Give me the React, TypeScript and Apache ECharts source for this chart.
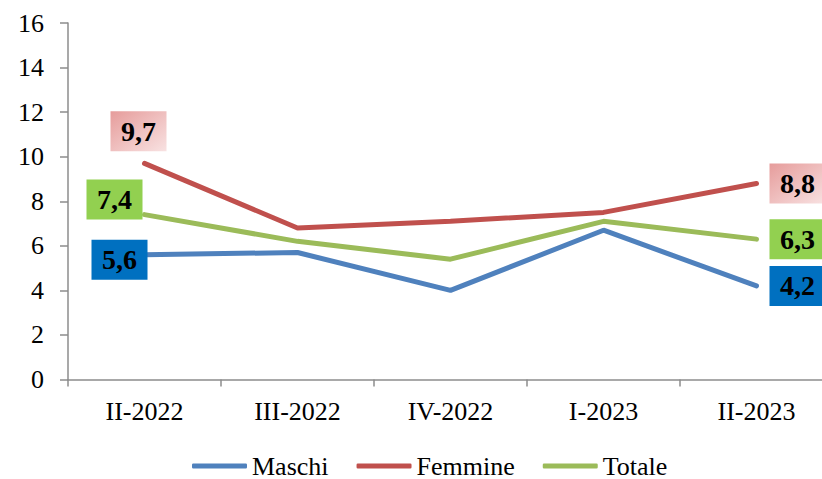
import React, { useEffect, useRef } from "react";
import * as echarts from "echarts";

const categories = ["II-2022", "III-2022", "IV-2022", "I-2023", "II-2023"];
const maschi = [5.6, 5.7, 4.0, 6.7, 4.2];
const femmine = [9.7, 6.8, 7.1, 7.5, 8.8];
const totale = [7.4, 6.2, 5.4, 7.1, 6.3];
const seriesNames = ["Maschi", "Femmine", "Totale"];

const FONT = "'Liberation Serif', 'DejaVu Serif', serif";

const fmt = (v: number) => v.toFixed(1).replace(".", ",");

function buildData(values: number[], bg: any, firstOffset: number[], lastOffset: number[]) {
  return values.map((v, i) => {
    const isEnd = i === 0 || i === values.length - 1;
    if (!isEnd) return { value: v };
    return {
      value: v,
      label: {
        show: true,
        position: "inside",
        offset: i === 0 ? firstOffset : lastOffset,
        formatter: () => fmt(v),
        fontFamily: FONT,
        fontWeight: "bold",
        fontSize: 28,
        color: "#000",
        backgroundColor: bg,
        width: 56,
        height: 40,
        lineHeight: 40,
        align: "center",
        verticalAlign: "middle",
      },
    };
  });
}

export default function App() {
  const ref = useRef<HTMLDivElement>(null);
  useEffect(() => {
    if (!ref.current) return;
    const chart = echarts.init(ref.current, null, { renderer: "svg" });
    const pink = new echarts.graphic.LinearGradient(0, 0, 1, 1, [
      { offset: 0, color: "#e69c9b" },
      { offset: 1, color: "#f8e2e2" },
    ]);
    const lineCommon = {
      type: "line",
      symbol: "circle",
      symbolSize: 0.1,
      showSymbol: true,
      z: 2,
    };
    chart.setOption({
      animation: false,
      grid: {
        left: 68,
        top: 23,
        bottom: 99.5,
        width: 765,
        containLabel: false,
        outerBoundsMode: "none",
      },
      legend: {
        left: 187,
        top: 448,
        itemWidth: 55,
        itemHeight: 5,
        itemGap: 28,
        icon: "roundRect",
        itemStyle: { opacity: 1 },
        textStyle: { fontFamily: FONT, fontSize: 26, color: "#000" },
        data: seriesNames,
      },
      xAxis: {
        type: "category",
        data: categories,
        boundaryGap: true,
        axisLine: { lineStyle: { color: "#8c8c8c", width: 1.5 } },
        axisTick: { show: true, length: 7, lineStyle: { color: "#8c8c8c", width: 1.5 } },
        axisLabel: { fontFamily: FONT, fontSize: 26, color: "#000", margin: 19 },
        splitLine: { show: false },
      },
      yAxis: {
        type: "value",
        min: 0,
        max: 16,
        interval: 2,
        axisLine: { show: true, lineStyle: { color: "#8c8c8c", width: 1.5 } },
        axisTick: { show: true, length: 8, lineStyle: { color: "#8c8c8c", width: 1.5 } },
        axisLabel: { fontFamily: FONT, fontSize: 26, color: "#000", margin: 24 },
        splitLine: { show: false },
      },
      series: [
        {
          ...lineCommon,
          name: "Maschi",
          color: "#4f81bd",
          itemStyle: { color: "#4f81bd" },
          lineStyle: { color: "#4f81bd", width: 5, cap: "round" },
          data: buildData(maschi, "#0070c0", [-25, 5], [41, 0]),
        },
        {
          ...lineCommon,
          name: "Femmine",
          color: "#c0504d",
          itemStyle: { color: "#c0504d" },
          lineStyle: { color: "#c0504d", width: 5, cap: "round" },
          data: buildData(femmine, pink, [-6, -32], [41, 0]),
        },
        {
          ...lineCommon,
          name: "Totale",
          color: "#9bbb59",
          itemStyle: { color: "#9bbb59" },
          lineStyle: { color: "#9bbb59", width: 5, cap: "round" },
          data: buildData(totale, "#92d050", [-30, -15], [41, 0]),
        },
      ],
    });
    return () => chart.dispose();
  }, []);
  return <div ref={ref} style={{ width: 822, height: 479, position: "absolute", left: 0, top: 0 }} />;
}
